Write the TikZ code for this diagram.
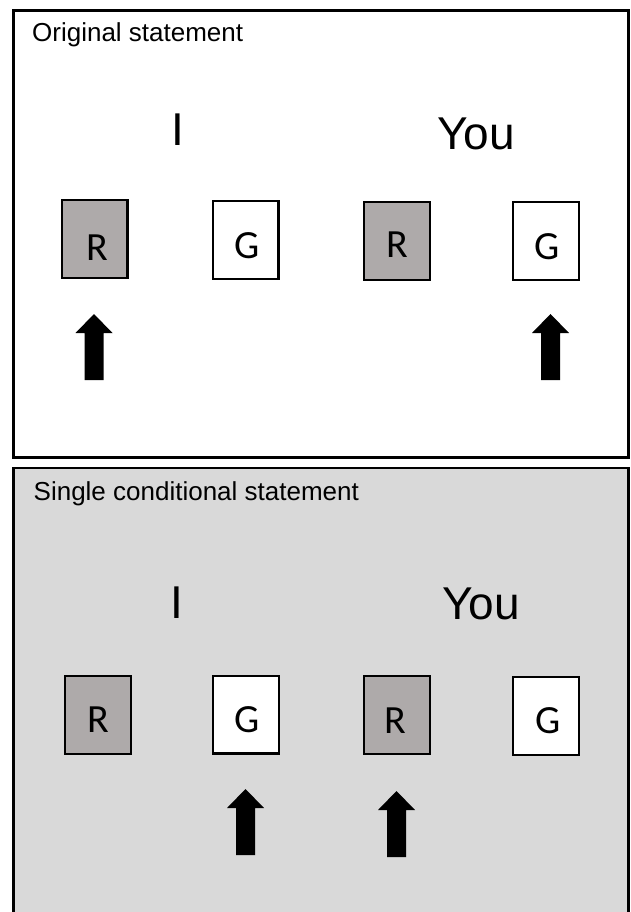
\documentclass[tikz,border=0pt]{standalone}
\usepackage{fontspec}
\setmainfont{Liberation Sans}
\newfontfamily\calib{Carlito}
\definecolor{cardgray}{HTML}{AEAAAA}
\definecolor{panelgray}{HTML}{D9D9D9}
\begin{document}
\begin{tikzpicture}[x=1pt,y=-1pt,
  panel/.style={line width=2.5pt,draw=black},
  title/.style={anchor=base west,inner sep=0pt,font=\fontsize{26}{30}\selectfont},
  who/.style={anchor=base,inner sep=0pt,font=\fontsize{46}{52}\selectfont},
  card/.style={draw=black,line width=2.2pt,minimum width=65.8pt,minimum height=77.8pt,inner sep=0pt},
  redcard/.style={card,fill=cardgray},
  greencard/.style={card,fill=white},
  letter/.style={inner sep=0pt,font=\calib\fontsize{40}{48}\selectfont},
  blockarrow/.pic={\fill[black] (-9.5,66) -- (-9.5,19) -- (-18.5,19) -- (0,0) -- (18.5,19) -- (9.5,19) -- (9.5,66) -- cycle;}
]
\useasboundingbox (0,0) rectangle (630,912);
% panels
\draw[panel,fill=white] (13.7,10.5) rectangle (628.7,457.3);
\fill[panelgray] (13.7,468) rectangle (628.7,930);
\draw[panel] (13.7,930) -- (13.7,468) -- (628.7,468) -- (628.7,930);

% top panel
\node[title] (t1) at (32,41.5) {Original statement};
\node[who] (i1) at (178,146) {I};
\node[who] (y1) at (476,150) {You};
\node[redcard] (r1) at (94.5,239) {};
\node[greencard] (g1) at (245.5,240) {};
\node[redcard] (r2) at (397,241) {};
\node[greencard] (g2) at (546,241) {};
\node[letter] (lr1) at (97,248) {R};
\node[letter] (lg1) at (247.5,246) {G};
\node[letter] (lr2) at (397,245) {R};
\node[letter] (lg2) at (547,247) {G};
\pic (a1) at (94,314) {blockarrow};
\pic (a2) at (550.5,314) {blockarrow};

% bottom panel
\node[title] (t2) at (33.5,500) {Single conditional statement};
\node[who] (i2) at (177,618) {I};
\node[who] (y2) at (481,619) {You};
\node[redcard] (r3) at (98,715) {};
\node[greencard] (g3) at (246,714.5) {};
\node[redcard] (r4) at (397,715) {};
\node[greencard] (g4) at (546,716) {};
\node[letter] (lr3) at (98,720) {R};
\node[letter] (lg3) at (247,720) {G};
\node[letter] (lr4) at (395,721) {R};
\node[letter] (lg4) at (548,721) {G};
\pic (a3) at (245.5,789) {blockarrow};
\pic (a4) at (396.5,791) {blockarrow};
\end{tikzpicture}
\end{document}
